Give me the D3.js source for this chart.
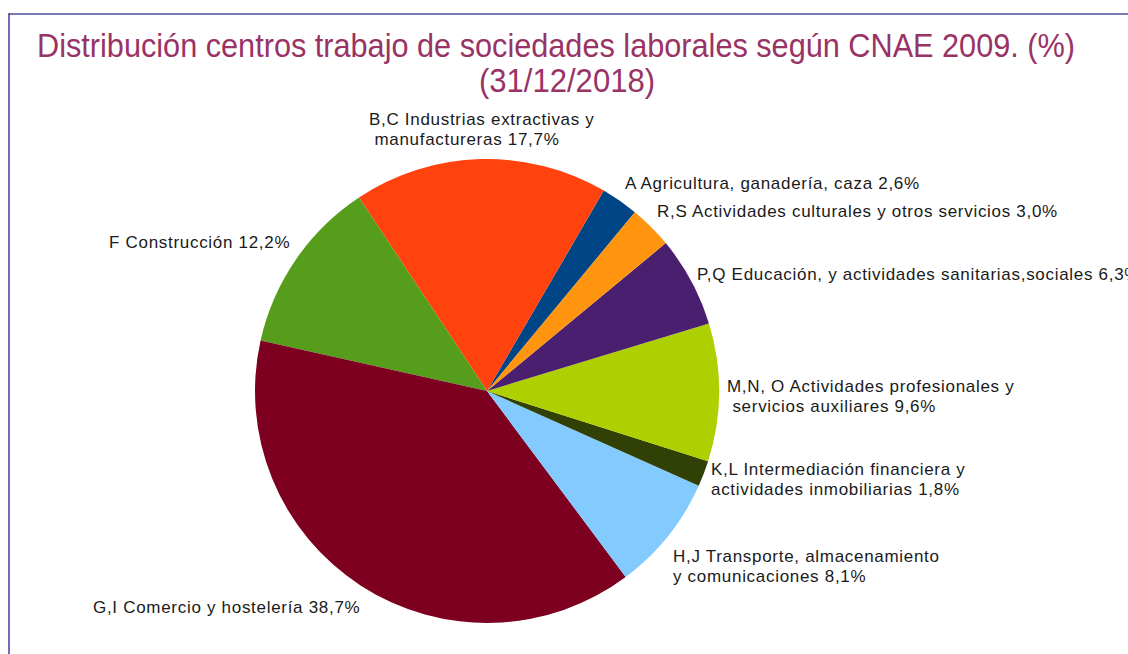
<!DOCTYPE html>
<html>
<head>
<meta charset="utf-8">
<script src="https://cdn.jsdelivr.net/npm/d3@7"></script>
<style>
  html, body { margin: 0; padding: 0; background: #fff; }
  svg { display: block; }
</style>
</head>
<body>
<div id="chart"></div>
<script>
// sectors, in CNAE order (drawn counter-clockwise like the original)
const categories = ["A", "B,C", "F", "G,I", "H,J", "K,L", "M,N,O", "P,Q", "R,S"];
const values = [2.6, 17.7, 12.2, 38.7, 8.1, 1.8, 9.6, 6.3, 3.0];
const labelLines = [
  ["A Agricultura, ganadería, caza 2,6%"],
  ["B,C Industrias extractivas y", " manufactureras 17,7%"],
  ["F Construcción 12,2%"],
  ["G,I Comercio y hostelería 38,7%"],
  ["H,J Transporte, almacenamiento", "y comunicaciones 8,1%"],
  ["K,L Intermediación financiera y", "actividades inmobiliarias 1,8%"],
  ["M,N, O Actividades profesionales y", " servicios auxiliares 9,6%"],
  ["P,Q Educación, y actividades sanitarias,sociales 6,3%"],
  ["R,S Actividades culturales y otros servicios 3,0%"]
];
const colors = ["#004586", "#ff420e", "#579d1c", "#7e0021", "#83caff", "#314004", "#aecf00", "#4b1f6f", "#ff950e"];
const titleLines = ["Distribución centros trabajo de sociedades laborales según CNAE 2009. (%)", "(31/12/2018)"];

const W = 1128, H = 654;
const cx = 487, cy = 391, R = 232;
const start = 39.6 * Math.PI / 180;

// label anchor (left x, first baseline) per slice
const labelPos = [
  [625, 189], [369, 125], [109, 248], [93, 613], [673, 562],
  [711, 475], [727, 392], [697, 280], [657, 217]
];

const svg = d3.select("#chart").append("svg")
  .attr("width", W).attr("height", H);

// frame
svg.append("line").attr("x1", 9).attr("x2", W).attr("y1", 14).attr("y2", 14)
  .attr("stroke", "#7b7bb3").attr("stroke-width", 2);
svg.append("line").attr("x1", 9).attr("x2", 9).attr("y1", 13).attr("y2", H)
  .attr("stroke", "#3b3ba3").attr("stroke-width", 1.5);

// title
const titleX = [556, 567];
const titleWidths = [1038, 176];
svg.selectAll("text.title").data(titleLines).join("text")
  .attr("class", "title")
  .attr("x", (d, i) => titleX[i])
  .attr("y", (d, i) => 57 + i * 35)
  .attr("text-anchor", "middle")
  .attr("textLength", (d, i) => titleWidths[i])
  .attr("lengthAdjust", "spacingAndGlyphs")
  .style("font-family", "'Liberation Sans', Arial, sans-serif")
  .style("font-size", "34px")
  .style("fill", "#993366")
  .text(d => d);

const pie = d3.pie().sort(null).value(d => d)
  .startAngle(start).endAngle(start - 2 * Math.PI);
const arc = d3.arc().innerRadius(0).outerRadius(R);

const g = svg.append("g").attr("transform", `translate(${cx},${cy})`);
g.selectAll("path").data(pie(values)).join("path")
  .attr("d", arc)
  .attr("fill", (d, i) => colors[i]);

// labels
const lbl = svg.append("g")
  .style("font-family", "'Liberation Sans', Arial, sans-serif")
  .style("font-size", "17px")
  .style("letter-spacing", "0.7px")
  .style("fill", "#1a1a1a");
labelLines.forEach((lines, i) => {
  const t = lbl.append("text")
    .attr("x", labelPos[i][0]).attr("y", labelPos[i][1]);
  lines.forEach((s, j) => {
    t.append("tspan").attr("x", labelPos[i][0]).attr("dy", j === 0 ? 0 : 20)
      .attr("xml:space", "preserve").text(s);
  });
});
</script>
</body>
</html>
